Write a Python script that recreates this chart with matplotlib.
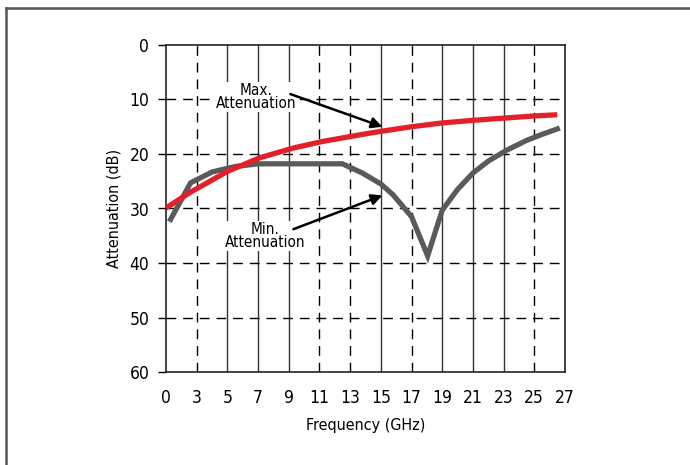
import matplotlib
matplotlib.use('Agg')
import matplotlib.pyplot as plt
from matplotlib.lines import Line2D

plt.rcParams['font.family'] = ['DejaVu Sans']
plt.rcParams['font.stretch'] = 'condensed'

# data (frequency GHz, attenuation dB)
max_freq = [1.0, 2.6, 5.0, 7.1, 9.3, 11.2, 13.8, 15.1, 17.0, 19.0, 21.1, 23.1, 25.1, 26.5]
max_atten = [29.9, 27.0, 23.2, 20.7, 18.9, 17.7, 16.4, 15.8, 15.0, 14.3, 13.8, 13.4, 13.0, 12.8]

min_freq = [1.3, 2.6, 4.0, 5.5, 7.0, 12.5, 13.8, 15.0, 15.8, 17.0, 18.05, 19.0, 20.0, 21.0, 22.0, 23.2, 24.5, 25.5, 26.5]
min_atten = [32.0, 25.3, 23.3, 22.3, 21.8, 21.8, 23.5, 25.5, 27.5, 31.5, 38.7, 30.3, 26.5, 23.5, 21.3, 19.3, 17.5, 16.4, 15.4]

tick_pos = list(range(1, 28, 2))
tick_labels = ['0'] + [str(v) for v in range(3, 28, 2)]
y_ticks = [0, 10, 20, 30, 40, 50, 60]
solid_grid = [5, 7, 9, 15, 19, 21, 23]
dashed_grid = [3, 11, 13, 17, 25]

fig = plt.figure(figsize=(6.9, 4.65), dpi=100)
ax = fig.add_axes([166 / 690, 1 - 372 / 465, (565 - 166) / 690, (372 - 45) / 465])

for x in solid_grid:
    ax.axvline(x, color='#333333', lw=1.0, zorder=1)
for x in dashed_grid:
    ax.axvline(x, color='black', lw=1.0, dashes=(7, 5), zorder=1)
for y in y_ticks[1:-1]:
    ax.axhline(y, color='black', lw=1.0, dashes=(7, 5), zorder=1)

ax.plot(min_freq, min_atten, color='#5a5a5a', lw=3.8, solid_joinstyle='miter', zorder=3)
ax.plot(max_freq, max_atten, color='#e3202a', lw=3.8, solid_capstyle='butt',
        solid_joinstyle='round', zorder=4)

ax.set_xlim(1, 27)
ax.set_ylim(60, 0)
ax.set_xticks(tick_pos)
ax.set_xticklabels(tick_labels)
ax.set_yticks(y_ticks)
ax.tick_params(axis='x', length=0, pad=12, labelsize=12.5)
ax.tick_params(axis='y', direction='out', length=6, width=1, pad=6, labelsize=12.5)
for s in ax.spines.values():
    s.set_linewidth(1.2)
    s.set_color('#222222')

ax.set_xlabel('Frequency (GHz)', fontsize=11.5, labelpad=8)
ax.set_ylabel('Attenuation (dB)', fontsize=11.5, labelpad=6)

ax.text(6.86, 9.5, 'Max.\nAttenuation', ha='center', va='center', fontsize=11,
        linespacing=0.85, zorder=6,
        bbox=dict(facecolor='white', edgecolor='none', pad=0.5))
ax.text(7.45, 35.0, 'Min.\nAttenuation', ha='center', va='center', fontsize=11,
        linespacing=0.85, zorder=6,
        bbox=dict(facecolor='white', edgecolor='none', pad=0.5))
arrow = dict(arrowstyle='-|>', color='black', lw=1.8, mutation_scale=16, shrinkA=0, shrinkB=0)
ax.annotate('', xy=(15.1, 15.0), xytext=(9.1, 9.0), arrowprops=arrow, zorder=7)
ax.annotate('', xy=(15.1, 27.6), xytext=(9.3, 33.8), arrowprops=arrow, zorder=7)

# partial frame around the figure
fig.add_artist(Line2D([6 / 690, 1], [1 - 8 / 465] * 2, color='#555555', lw=1.8))
fig.add_artist(Line2D([6 / 690] * 2, [0, 1 - 8 / 465], color='#555555', lw=1.8))

plt.savefig('out.png', dpi=100)
plt.close()
